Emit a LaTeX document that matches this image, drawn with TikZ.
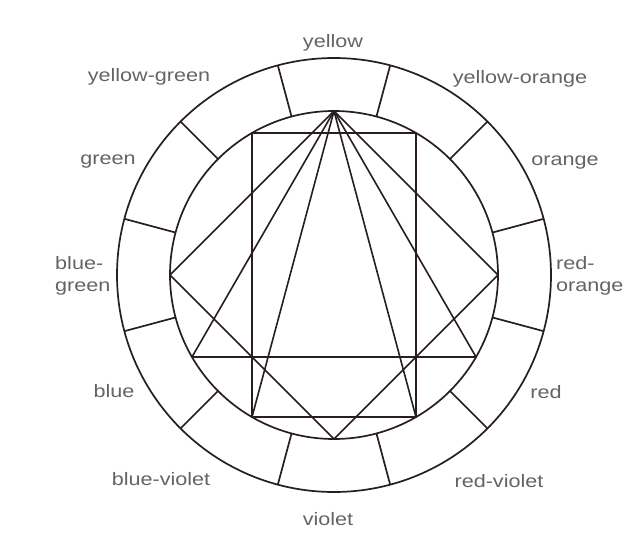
\documentclass[tikz,border=0pt]{standalone}
\usepackage{fontspec}
\setmainfont[FakeStretch=1.2]{Liberation Sans}
\definecolor{ink}{RGB}{40,30,30}
\definecolor{labgray}{RGB}{100,100,100}
\begin{document}
\begin{tikzpicture}[x=1pt,y=-1pt,
  ring/.style={line width=1.7pt, draw=ink},
  fig/.style={line width=1.6pt, draw=ink, line join=round},
  lab/.style={text=labgray, font=\fontsize{18}{22}\selectfont, inner sep=0pt, align=left}]
\useasboundingbox[fill=white] (0,0) rectangle (626,541);
\coordinate (c) at (334,275);
% ring
\draw[ring] (c) circle[radius=217];
\draw[ring] (c) circle[radius=164];
\foreach \a in {15,45,...,345}
  \draw[ring] (c) ++(\a:164) -- ++(\a:53);
% vertices on the inner circle (image angles, y flipped)
\foreach \n/\a in {Y/90,YO/60,O/30,RO/0,R/-30,RV/-60,V/-90,BV/-120,B/-150,BG/180,G/150,YG/120}
  \path (c) ++(-\a:164) coordinate (\n);
% inscribed figures
\draw[fig] (YG) -- (YO) -- (RV) -- (BV) -- cycle;
\draw[fig] (Y) -- (RO) -- (V) -- (BG) -- cycle;
\draw[fig] (Y) -- (R) -- (B) -- cycle;
\draw[fig] (BV) -- (Y) -- (RV);
% labels
\node[lab] (lY)  at (333,43)  {yellow};
\node[lab] (lYG) at (149,77)  {yellow-green};
\node[lab] (lYO) at (520,79)  {yellow-orange};
\node[lab] (lG)  at (108,162) {green};
\node[lab] (lO)  at (565,163) {orange};
\node[lab,anchor=west] (lBG) at (55,276) {blue-\\green};
\node[lab,anchor=west] (lRO) at (556,276) {red-\\orange};
\node[lab] (lB)  at (114,391) {blue};
\node[lab] (lR)  at (546,392) {red};
\node[lab] (lBV) at (161,479) {blue-violet};
\node[lab] (lRV) at (499,481) {red-violet};
\node[lab] (lV)  at (328,519) {violet};
\end{tikzpicture}
\end{document}
